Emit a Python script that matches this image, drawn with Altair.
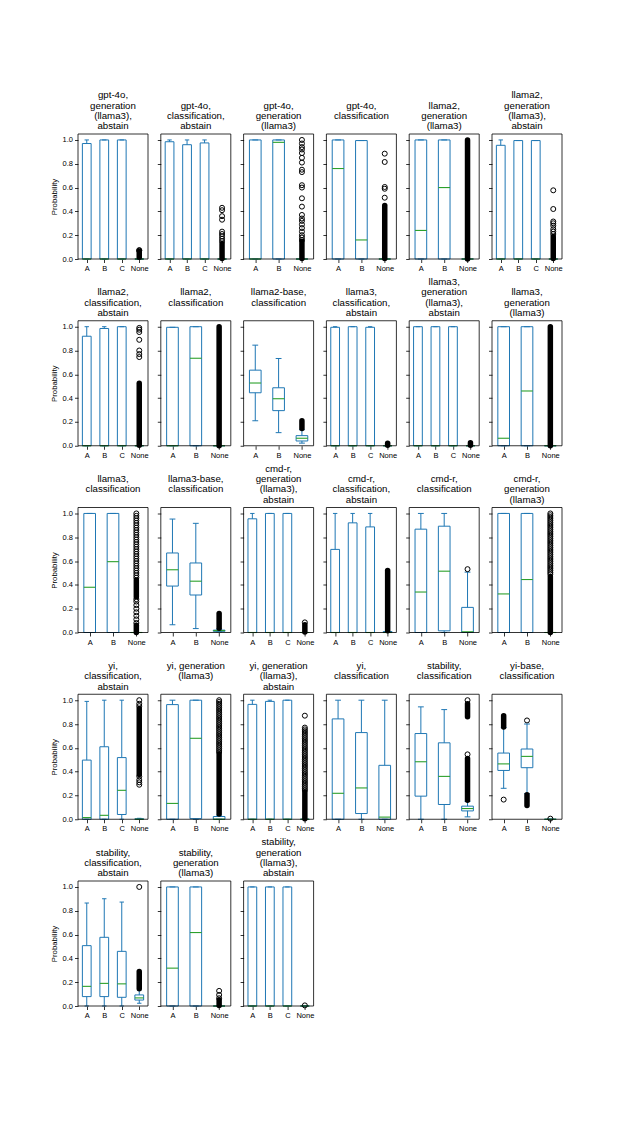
import altair as alt
import pandas as pd

BLUE = "#1f77b4"
GREEN = "#2ca02c"
FONT = "Liberation Sans"

ABCN = ["A", "B", "C", "None"]
ABN = ["A", "B", "None"]

TITLES = [
    ["gpt-4o,", "generation", "(llama3),", "abstain"],
    ["gpt-4o,", "classification,", "abstain"],
    ["gpt-4o,", "generation", "(llama3)"],
    ["gpt-4o,", "classification"],
    ["llama2,", "generation", "(llama3)"],
    ["llama2,", "generation", "(llama3),", "abstain"],
    ["llama2,", "classification,", "abstain"],
    ["llama2,", "classification"],
    ["llama2-base,", "classification"],
    ["llama3,", "classification,", "abstain"],
    ["llama3,", "generation", "(llama3),", "abstain"],
    ["llama3,", "generation", "(llama3)"],
    ["llama3,", "classification"],
    ["llama3-base,", "classification"],
    ["cmd-r,", "generation", "(llama3),", "abstain"],
    ["cmd-r,", "classification,", "abstain"],
    ["cmd-r,", "classification"],
    ["cmd-r,", "generation", "(llama3)"],
    ["yi,", "classification,", "abstain"],
    ["yi, generation", "(llama3)"],
    ["yi, generation", "(llama3),", "abstain"],
    ["yi,", "classification"],
    ["stability,", "classification"],
    ["yi-base,", "classification"],
    ["stability,", "classification,", "abstain"],
    ["stability,", "generation", "(llama3)"],
    ["stability,", "generation", "(llama3),", "abstain"],
]

CATS = [ABCN, ABCN, ABN, ABN, ABN, ABCN,
        ABCN, ABN, ABN, ABCN, ABCN, ABN,
        ABN, ABN, ABCN, ABCN, ABN, ABN,
        ABCN, ABN, ABCN, ABN, ABN, ABN,
        ABCN, ABN, ABCN]

# lower whisker ends
WLO = [
    [0, 0, 0, 0], [0, 0, 0, 0], [0, 0, 0], [0, 0, 0], [0, 0, 0], [0, 0, 0, 0],
    [0, 0, 0, 0], [0, 0, 0], [0.21, 0.11, 0.022], [0, 0, 0, 0], [0, 0, 0, 0], [0, 0, 0],
    [0, 0, 0], [0.065, 0.033, 0.005], [0, 0, 0, 0], [0, 0, 0, 0], [0, 0, 0], [0, 0, 0],
    [0, 0, 0, 0], [0, 0, 0], [0, 0, 0, 0], [0, 0, 0], [0, 0, 0.02], [0.26, 0.215, 0],
    [0, 0, 0, 0.023], [0, 0, 0], [0, 0, 0, 0],
]
# first quartiles
Q1 = [
    [0, 0, 0, 0], [0, 0, 0, 0], [0, 0, 0], [0, 0, 0], [0, 0, 0], [0, 0, 0, 0],
    [0, 0, 0, 0], [0, 0, 0], [0.445, 0.295, 0.04], [0, 0, 0, 0], [0, 0, 0, 0], [0, 0, 0],
    [0, 0, 0], [0.39, 0.315, 0.01], [0, 0, 0, 0], [0, 0, 0, 0], [0, 0.014, 0], [0, 0, 0],
    [0, 0, 0.04, 0], [0, 0.005, 0], [0, 0, 0, 0], [0, 0.048, 0], [0.194, 0.124, 0.07], [0.41, 0.433, 0],
    [0.079, 0.079, 0.073, 0.05], [0, 0, 0], [0, 0, 0, 0],
]
# medians
MED = [
    [0, 0, 0, 0], [0, 0, 0, 0], [0, 0.98, 0], [0.76, 0.16, 0], [0.24, 0.6, 0], [0, 0, 0, 0],
    [0, 0, 0, 0], [0, 0.735, 0], [0.527, 0.395, 0.063], [0, 0, 0, 0], [0, 0, 0, 0], [0.063, 0.46, 0],
    [0.38, 0.595, 0], [0.527, 0.431, 0.016], [0, 0, 0, 0], [0, 0, 0, 0], [0.34, 0.515, 0.006], [0.324, 0.445, 0],
    [0.014, 0.033, 0.243, 0], [0.133, 0.68, 0], [0, 0, 0, 0], [0.218, 0.263, 0.018], [0.483, 0.36, 0.09], [0.465, 0.528, 0],
    [0.165, 0.19, 0.186, 0.068], [0.318, 0.617, 0], [0, 0, 0, 0],
]
# third quartiles
Q3 = [
    [0.97, 1, 1, 0], [0.985, 0.96, 0.975, 0], [1, 1, 0], [1, 0.995, 0], [1, 1, 0], [0.955, 0.995, 0.995, 0],
    [0.92, 0.985, 1, 0], [0.995, 1, 0], [0.635, 0.487, 0.085], [0.995, 1, 0.995, 0], [1, 1, 1, 0], [1, 1, 0],
    [1, 1, 0], [0.668, 0.584, 0.02], [0.955, 1, 1, 0], [0.698, 0.921, 0.887, 0.008], [0.868, 0.893, 0.211], [1, 1, 0],
    [0.497, 0.609, 0.518, 0.004], [0.963, 1, 0.023], [0.965, 0.99, 1, 0], [0.843, 0.728, 0.453], [0.72, 0.642, 0.11], [0.556, 0.59, 0],
    [0.507, 0.577, 0.459, 0.093], [1, 1, 0], [1, 1, 1, 0],
]
# upper whisker ends
WHI = [
    [1, 1, 1, 0], [1, 1, 1, 0], [1, 1, 0], [1, 0.995, 0], [1, 1, 0], [1, 0.995, 0.995, 0],
    [1, 1, 1, 0], [0.995, 1, 0], [0.845, 0.733, 0.135], [1, 1, 1, 0], [1, 1, 1, 0], [1, 1, 0],
    [1, 1, 0], [0.953, 0.917, 0.03], [1, 1, 1, 0], [1, 1, 1, 0.012], [1, 1, 0.507], [1, 1, 0],
    [0.99, 1, 1, 0.008], [1, 1, 0.035], [1, 1, 1, 0], [1, 1, 1], [0.944, 0.921, 0.15], [0.77, 0.80, 0],
    [0.865, 0.901, 0.873, 0.135], [1, 1, 0], [1, 1, 1, 0],
]

# individually visible outlier circles, per category
OUT = [
    [[], [], [], [0.07, 0.075]],
    [[], [], [], [0.15, 0.17, 0.19, 0.21, 0.23, 0.33, 0.36, 0.41, 0.43]],
    [[], [], [0.16, 0.18, 0.2, 0.23, 0.26, 0.29, 0.32, 0.34, 0.37, 0.44, 0.51, 0.6, 0.62, 0.73, 0.75,
              0.81, 0.85, 0.89, 0.92, 0.94, 0.97, 1.0]],
    [[], [], [0.515, 0.59, 0.605, 0.815, 0.885]],
    [[], [], []],
    [[], [], [], [0.21, 0.23, 0.25, 0.28, 0.3, 0.315, 0.42, 0.577]],
    [[], [], [], [0.745, 0.77, 0.8, 0.89, 0.955, 0.975, 0.99]],
    [[], [], []],
    [[], [], []],
    [[], [], [], []],
    [[], [], [], []],
    [[], [], []],
    [[], [], [0.08, 0.11, 0.14, 0.17, 0.2, 0.23, 0.26, 0.28, 0.46, 0.48, 0.5, 0.52, 0.54, 0.56, 0.58,
              0.6, 0.62, 0.64, 0.66, 0.68, 0.7, 0.72, 0.74, 0.76, 0.78, 0.8, 0.82, 0.84, 0.86, 0.88,
              0.9, 0.92, 0.94, 0.96, 0.98, 1.0]],
    [[], [], []],
    [[], [], [], [0.085]],
    [[], [], [], []],
    [[], [], [0.532]],
    [[], [], [0.49, 0.505, 0.52, 0.535, 0.55, 0.565, 0.58, 0.595, 0.61, 0.625, 0.64, 0.655, 0.67,
              0.685, 0.7, 0.715, 0.73, 0.745, 0.76, 0.775, 0.79, 0.805, 0.82, 0.835, 0.85, 0.865,
              0.88, 0.895, 0.91, 0.925, 0.94, 0.955, 0.97, 0.985, 1.0]],
    [[], [], [], [0.29, 0.31, 0.33, 0.36, 0.95, 0.97, 1.0]],
    [[], [], [0.565, 0.58, 0.595, 0.61, 0.625, 0.64, 0.655, 0.67, 0.685, 0.7, 0.715, 0.73, 0.745,
              0.76, 0.775, 0.79, 0.805, 0.82, 0.835, 0.85, 0.865, 0.88, 0.895, 0.91, 0.925, 0.94,
              0.955, 0.97, 0.985, 1.0]],
    [[], [], [], [0.245, 0.26, 0.275, 0.29, 0.305, 0.32, 0.335, 0.35, 0.365, 0.38, 0.395, 0.41,
                  0.425, 0.44, 0.455, 0.47, 0.485, 0.5, 0.515, 0.53, 0.545, 0.56, 0.575, 0.59,
                  0.605, 0.62, 0.635, 0.65, 0.665, 0.68, 0.695, 0.71, 0.725, 0.74, 0.755, 0.77, 0.87]],
    [[], [], []],
    [[], [], [0.545, 1.0]],
    [[0.165], [0.83], [0.005]],
    [[], [], [], [1.0]],
    [[], [], [0.065, 0.093, 0.127]],
    [[], [], [], [0.005]],
]

# stretches of outliers so packed that they read as a solid column, per category
DENSE = [
    [[], [], [], [[0.015, 0.065]]],
    [[], [], [], [[0.005, 0.13]]],
    [[], [], [[0.005, 0.15]]],
    [[], [], [[0.005, 0.45]]],
    [[], [], [[0.0, 1.0]]],
    [[], [], [], [[0.005, 0.19]]],
    [[], [], [], [[0.005, 0.525]]],
    [[], [], [[0.0, 1.0]]],
    [[], [], [[0.145, 0.21]]],
    [[], [], [], [[0.005, 0.02]]],
    [[], [], [], [[0.005, 0.025]]],
    [[], [], [[0.0, 1.0]]],
    [[], [], [[0.0, 0.06], [0.3, 0.44]]],
    [[], [], [[0.035, 0.16]]],
    [[], [], [], [[0.005, 0.065]]],
    [[], [], [], [[0.015, 0.52]]],
    [[], [], []],
    [[], [], [[0.0, 0.47]]],
    [[], [], [], [[0.375, 0.93]]],
    [[], [], [[0.045, 0.55]]],
    [[], [], [], [[0.005, 0.23]]],
    [[], [], []],
    [[], [], [[0.16, 0.51], [0.86, 0.97]]],
    [[[0.775, 0.87]], [[0.115, 0.205]], []],
    [[], [], [], [[0.145, 0.29]]],
    [[], [], [[0.005, 0.05]]],
    [[], [], [], []],
]

PW, PH = 70, 125
YTICKS = [0.0, 0.2, 0.4, 0.6, 0.8, 1.0]


def panel(i):
    cats = CATS[i]
    n = len(cats)
    pos = list(range(1, n + 1))
    first_col = (i % 6 == 0)
    labels_js = "[" + ",".join("'%s'" % c for c in cats) + "]"
    xs = alt.Scale(domain=[0.5, n + 0.5], nice=False, zero=False)
    ys = alt.Scale(domain=[0, 1.05], nice=False, zero=False)
    xaxis = alt.Axis(values=pos, labelExpr=labels_js + "[datum.value - 1]", title=None,
                     grid=False, domain=False, tickSize=3.5, labelAngle=0, labelPadding=2)
    if first_col:
        yaxis = alt.Axis(values=YTICKS, format=".1f", title="Probability", grid=False,
                         domain=False, tickSize=3.5, labelPadding=2)
    else:
        yaxis = alt.Axis(values=YTICKS, labels=False, title=None, grid=False,
                         domain=False, tickSize=3.5)

    def X(f):
        return alt.X(f, type="quantitative", scale=xs, axis=xaxis)

    def Y(f):
        return alt.Y(f, type="quantitative", scale=ys, axis=yaxis)

    box = pd.DataFrame({
        "p": pos,
        "bl": [p - 0.25 for p in pos], "br": [p + 0.25 for p in pos],
        "cl": [p - 0.125 for p in pos], "cr": [p + 0.125 for p in pos],
        "wlo": WLO[i], "q1": Q1[i], "med": MED[i], "q3": Q3[i], "whi": WHI[i],
    })
    base = alt.Chart(box)
    layers = [
        base.mark_rule(color=BLUE, strokeWidth=1).encode(x=X("p"), y=Y("wlo"), y2="q1"),
        base.mark_rule(color=BLUE, strokeWidth=1).encode(x=X("p"), y=Y("q3"), y2="whi"),
        base.mark_rule(color=BLUE, strokeWidth=1).encode(x=X("cl"), x2="cr", y=Y("wlo")),
        base.mark_rule(color=BLUE, strokeWidth=1).encode(x=X("cl"), x2="cr", y=Y("whi")),
        base.mark_rect(stroke=BLUE, strokeWidth=1, fillOpacity=0).encode(
            x=X("bl"), x2="br", y=Y("q1"), y2="q3"),
        base.mark_rule(color=GREEN, strokeWidth=1.1).encode(x=X("bl"), x2="br", y=Y("med")),
    ]
    dense_rows = []
    for k, bands in enumerate(DENSE[i]):
        for lo, hi in bands:
            dense_rows.append({"p": pos[k], "lo": lo, "hi": hi})
    if dense_rows:
        layers.append(alt.Chart(pd.DataFrame(dense_rows)).mark_rule(
            color="black", strokeWidth=5.5, strokeCap="round").encode(
            x=X("p"), y=Y("lo"), y2="hi"))
    out_rows = []
    for k, vals in enumerate(OUT[i]):
        for v in vals:
            out_rows.append({"p": pos[k], "v": v})
    if out_rows:
        layers.append(alt.Chart(pd.DataFrame(out_rows)).mark_point(
            shape="circle", filled=False, color="black", size=25, strokeWidth=1,
            opacity=1).encode(x=X("p"), y=Y("v")))
    layers.append(alt.Chart(pd.DataFrame({"k": [0]})).mark_rect(
        fillOpacity=0, stroke="black", strokeWidth=0.8).encode(
        x=alt.value(0), x2=alt.value(PW), y=alt.value(0), y2=alt.value(PH)))

    lines = [" "] * (4 - len(TITLES[i])) + TITLES[i]
    return alt.layer(*layers).properties(
        width=PW, height=PH, title=alt.TitleParams(text=lines))


panels = [panel(i) for i in range(len(TITLES))]

chart = alt.concat(
    *panels, columns=6, spacing={"row": 61.75, "column": 12.8}, bounds="flush"
).properties(
    padding={"left": 42, "top": 82, "right": 10, "bottom": 10}
).configure(
    font=FONT
).configure_view(
    stroke=None
).configure_title(
    font=FONT, fontSize=9.7, fontWeight="normal", color="black", lineHeight=10.4,
    offset=2.5, anchor="middle"
).configure_axis(
    labelFont=FONT, labelFontSize=7.5, labelColor="black", tickColor="black",
    tickWidth=0.8, titleFont=FONT, titleFontSize=7.8, titleFontWeight="normal",
    titleColor="black", titlePadding=4
)

chart.save("out.html", embed_options={"renderer": "svg", "actions": False})
